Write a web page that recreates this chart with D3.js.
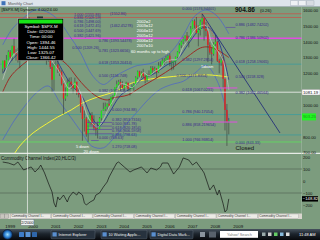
<!DOCTYPE html>
<html>
<head>
<meta charset="utf-8">
<script src="https://cdn.jsdelivr.net/npm/d3@7"></script>
<style>
  html, body { margin: 0; padding: 0; background: #7c9c7e; }
  svg { display: block; font-family: "Liberation Sans", Arial, sans-serif; }
</style>
</head>
<body>
<svg id="chart" width="320" height="240"></svg>
<script>
// $SPX.M monthly candles, Jan 1999 .. Dec 2008
var FIRST_MONTH = "1999-01";
var opens = [1229,1280,1238,1286,1335,1302,1373,1329,1320,1283,1363,1389,
  1469,1394,1366,1499,1452,1421,1455,1431,1518,1437,1429,1315,
  1320,1366,1240,1160,1250,1256,1224,1211,1134,1041,1060,1140,
  1148,1130,1107,1147,1077,1067,990,912,916,815,886,936,
  880,856,841,848,917,964,975,990,1008,996,1051,1058,
  1112,1131,1145,1126,1107,1121,1141,1102,1104,1115,1130,1174,
  1212,1181,1204,1181,1157,1192,1191,1234,1220,1229,1207,1250,
  1248,1280,1281,1295,1311,1270,1270,1277,1304,1336,1378,1401,
  1418,1438,1407,1421,1482,1531,1503,1455,1474,1527,1549,1481,
  1468,1379,1331,1323,1386,1400,1280,1267,1283,1166,969,896];
var highs = [1280,1282,1316,1346,1347,1376,1419,1352,1361,1373,1397,1474,
  1478,1444,1553,1527,1481,1474,1517,1525,1531,1455,1438,1389,
  1383,1376,1264,1269,1316,1286,1236,1220,1137,1111,1161,1173,
  1176,1131,1173,1147,1107,1070,993,966,925,907,951,955,
  935,865,895,924,965,1015,1016,1011,1040,1054,1063,1112,
  1155,1159,1163,1150,1127,1147,1141,1109,1131,1142,1183,1218,
  1217,1213,1229,1191,1200,1219,1246,1246,1243,1233,1271,1276,
  1295,1297,1311,1318,1326,1284,1280,1307,1340,1390,1407,1431,
  1441,1461,1438,1499,1535,1541,1556,1503,1539,1576,1552,1523,
  1471,1396,1359,1397,1440,1405,1292,1314,1303,1167,1007,918];
var lows = [1205,1212,1234,1282,1288,1281,1325,1281,1268,1233,1348,1387,
  1350,1325,1346,1339,1348,1420,1413,1421,1419,1305,1294,1255,
  1274,1228,1081,1091,1241,1203,1183,1124,944,1026,1055,1114,
  1101,1074,1106,1064,1048,952,775,833,800,768,872,871,
  840,807,789,847,902,963,962,960,990,996,1031,1058,
  1105,1124,1087,1107,1077,1114,1079,1060,1101,1090,1128,1163,
  1164,1171,1171,1137,1147,1178,1183,1201,1206,1169,1202,1243,
  1245,1253,1268,1280,1245,1219,1224,1253,1292,1327,1360,1385,
  1403,1389,1364,1416,1481,1484,1452,1371,1439,1490,1407,1435,
  1271,1317,1257,1312,1373,1272,1200,1248,1107,840,742,815];
var closes = [1280,1238,1286,1335,1302,1373,1329,1320,1283,1363,1389,1469,
  1394,1366,1499,1452,1421,1455,1431,1518,1437,1429,1315,1320,
  1366,1240,1160,1250,1256,1224,1211,1134,1041,1060,1140,1148,
  1130,1107,1147,1077,1067,990,912,916,815,886,936,880,
  856,841,848,917,964,975,990,1008,996,1051,1058,1112,
  1131,1145,1126,1107,1121,1141,1102,1104,1115,1130,1174,1212,
  1181,1204,1181,1157,1192,1191,1234,1220,1229,1207,1250,1248,
  1280,1281,1295,1311,1270,1270,1277,1304,1336,1378,1401,1418,
  1438,1407,1421,1482,1531,1503,1455,1474,1527,1549,1481,1468,
  1379,1331,1323,1386,1400,1280,1267,1283,1166,969,896,903];

// 1100 and 900 sit under the value boxes, so they are not printed
var priceTicks = [700,800,1000,1200,1300,1400,1500,1600];
var yearTicks = ["1999","2000","2001","2002","2003","2004","2005","2006","2007","2008","2009"];
var cciTicks = [200,100,0,-100,-200];
var cciGuides = [100,-100];

// indicator lines
var redMa = [["1999-01",1083],["1999-05",1177],["1999-10",1240],["2000-05",1297],["2001-02",1303],["2001-06",1297],["2001-11",1253],["2002-04",1177],["2002-09",1108],["2003-03",1051],["2003-08",1032],["2003-11",1045],["2004-07",1064],["2005-01",1108],["2005-10",1171],["2006-07",1240],["2007-02",1303],["2007-09",1360],["2008-01",1367],["2008-06",1348],["2008-12",1300]];
var yellowMa = [["1999-01",600],["1999-05",654],["1999-10",742],["2000-05",824],["2000-12",881],["2001-06",925],["2002-01",969],["2002-07",1013],["2003-03",1051],["2003-10",1076],["2004-04",1108],["2004-09",1139],["2005-07",1165],["2006-04",1177],["2006-10",1184],["2007-05",1190],["2008-02",1190],["2008-12",1177]];
var blueMa = [["1999-01",1200],["1999-07",1300],["2000-01",1360],["2000-07",1440],["2001-01",1400],["2001-07",1250],["2002-01",1130],["2002-07",1050],["2002-12",920],["2003-04",870],["2003-09",950],["2004-03",1060],["2004-09",1110],["2005-03",1170],["2005-09",1200],["2006-03",1250],["2006-09",1290],["2007-03",1390],["2007-09",1480],["2008-01",1490],["2008-06",1420],["2008-12",1160]];
var upperBand = [["1999-01",1380],["1999-06",1480],["2000-01",1560],["2000-06",1600],["2000-12",1590],["2001-06",1540],["2001-12",1440],["2002-06",1330],["2002-12",1190],["2003-06",1130],["2003-12",1180],["2004-06",1220],["2004-12",1250],["2005-06",1260],["2005-12",1290],["2006-06",1340],["2006-12",1440],["2007-06",1560],["2007-12",1600],["2008-06",1560],["2008-12",1450]];
var lowerBand = [["1999-01",780],["1999-07",900],["2000-01",1000],["2000-07",1080],["2001-01",1120],["2001-07",1020],["2002-01",920],["2002-07",820],["2002-12",740],["2003-06",730],["2003-12",800],["2004-06",880],["2004-12",960],["2005-06",1040],["2005-12",1100],["2006-06",1130],["2006-12",1150],["2007-06",1200],["2007-12",1250],["2008-06",1150],["2008-12",900]];
var greyMa = [["1999-01",1160],["1999-06",1307],["1999-12",1365],["2000-06",1438],["2000-12",1385],["2001-03",1280],["2001-06",1226],["2001-09",1160],["2001-12",1104],["2002-03",1134],["2002-06",1077],["2002-09",946],["2002-12",887],["2003-03",862],["2003-06",909],["2003-09",986],["2003-12",1045],["2004-03",1133],["2004-06",1128],["2004-09",1110],["2004-12",1147],["2005-03",1204],["2005-06",1185],["2005-09",1213],["2005-12",1232],["2006-03",1277],["2006-06",1285],["2006-09",1291],["2006-12",1367],["2007-03",1416],["2007-06",1470],["2007-09",1498],["2007-12",1502],["2008-03",1395],["2008-06",1344],["2008-09",1279],["2008-12",1097]];
var sarDots = [["2007-11",1555],["2008-03",1460],["2008-07",1350],["2008-11",1240]];
var trendLine = [["2007-10",1576],["2011-03",824]];

var cci = [["1999-01",158],["1999-04",150],["1999-07",133],["1999-09",158],["1999-12",92],["2000-04",117],["2000-06",75],["2000-08",108],["2000-09",133],["2000-11",67],["2001-01",-17],["2001-03",-92],["2001-04",-183],["2001-05",-217],["2001-06",-133],["2001-07",-158],["2001-09",-117],["2001-11",-175],["2001-12",-133],["2002-02",-92],["2002-04",-117],["2002-05",-92],["2002-07",-117],["2002-08",-183],["2002-09",-200],["2002-11",-175],["2003-01",-158],["2003-02",-117],["2003-04",-100],["2003-06",-50],["2003-08",-8],["2003-09",33],["2003-11",92],["2004-01",150],["2004-02",158],["2004-05",117],["2004-08",75],["2004-10",92],["2005-02",117],["2005-05",67],["2005-07",108],["2005-10",92],["2005-12",117],["2006-01",150],["2006-04",150],["2006-07",58],["2006-10",117],["2006-12",192],["2007-03",175],["2007-05",133],["2007-07",158],["2007-10",92],["2007-11",67],["2008-02",-75],["2008-04",-33],["2008-06",-117],["2008-07",-75],["2008-09",-190],["2008-10",-258],["2008-11",-240],["2008-12",-149]];
var lastCci = -148.82;

// horizontal levels across the price panel
var levelValues = [1576.09, 1552.87, 1421.96, 1258.19, 940.17, 811.5, 766.93];
var levelKinds = ["red","red","magenta","teal","teal","teal","green"];
var crossPrice = 1081.19;
var crossMonth = "2000-02";
var lastPrice = 903.25;

var magentaSegs = [["2008-01","2009-05",1108],["2007-11","2009-05",893]];
var fibSegs = [["2002-10","2003-11",890],["2002-10","2003-11",867],["2002-10","2003-11",846],["2002-10","2003-11",819],["2002-12","2003-04",776],["2008-11","2009-04",1490]];

var fibLabels = [
  ["1.000 (1555.86)","2002-03",1565],["0.886 (1509.59)","2002-03",1543],["0.786 (1498.00)","2002-03",1521],
  ["0.618 (1472.45)","2002-03",1490],["0.500 (1447.69)","2002-03",1461],["0.382 (1421.96)","2002-03",1430],
  ["(1552.86)","2003-10",1568],["(1462.45278)","2003-10",1490],["0.500 (1209.26)","2002-02",1351],
  ["0.786 (1393.54478)","2003-04",1395],["0.781 (1323.6656)","2003-04",1332],["0.618 (1353.20414)","2003-04",1262],
  ["0.500 (1156.748)","2003-04",1174],["0.382 (1089.53)","2003-04",1083],["0.000 (934.88)","2003-11",963],
  ["0.382 (853.7316)","2003-11",897],["0.500 (831.78)","2003-11",874],["0.618 (820.1854)","2003-11",852],
  ["0.786 (806.5958)","2003-11",827],["0.886 (798.63)","2003-11",805],["0.000 (768.63)","2003-04",783],
  ["1.270 (718.08)","2003-11",726],
  ["0.000 (1576.94401)","2006-12",1597],["0.382 (1297.2854)","2006-12",1281],["0.500 (1171.8354)","2006-09",1174],
  ["0.618 (1067.0231)","2006-12",1086],["0.786 (940.17054)","2006-12",953],["0.886 (858.219654)","2006-12",865],
  ["1.000 (766.93814)","2006-12",774],
  ["0.886 (1482.74202)","2009-04",1496],["0.786 (1386.50902)","2009-04",1414],["0.618 (1258.19065)","2009-04",1266],
  ["0.500 (1158.328)","2009-04",1168],["0.382 (1062.46564)","2009-04",1070],["0.000 (843.33)","2009-04",752]
];
var notes = [["2002=2","2004-12",1521],["2003=12","2004-12",1490],["2004=12","2004-12",1458],["2005=12","2004-12",1427],
  ["2006=12","2004-12",1395],["2007=10","2004-12",1364],["60 months up to high","2004-09",1326],
  ["5down","2007-10",1231],["5 down","2002-04",732],["20 down","2002-08",695]];

var readout = ["Symbol: $SPX.M","Date: 02/2000","Time: 00:00","Open: 1394.46","High: 1444.55","Low: 1325.07","Close: 1366.42"];
var tabNames = ["Commodity Channel I...","Commodity Channel I...","Commodity Channel I...",
  "Commodity Channel I...","Commodity Channel I...","Commodity Channel I...","Commodity Channel I..."];

var PLOT_RIGHT = 302;
var MAIN_TOP = 6.5, MAIN_BOTTOM = 153;
var CCI_TOP = 154, CCI_BOTTOM = 213.5;
var TASK_TOP = 229;

var COLORS = {
  bg: "#7c9c7e", red: "#c4564c", magenta: "#e04ee0", teal: "#3e9c9c", green: "#5ee25e",
  up: "#22e022", down: "#e42020", wick: "#2a2a2a", fib: "#3a2a8e", note: "#ffffff"
};

var parseMonth = d3.timeParse("%Y-%m");
function mid(s) { return d3.timeDay.offset(parseMonth(s), 14); }

var x = d3.scaleTime()
  .domain([new Date(1998, 11, 2), new Date(2012, 2, 2)])
  .range([0, PLOT_RIGHT]);
var y = d3.scaleLinear().domain([700, 1600]).range([152.6, 10]);
var yc = d3.scaleLinear().domain([-200, 200]).range([205, 157]);

var candles = closes.map(function(c, i) {
  return { date: d3.timeDay.offset(d3.timeMonth.offset(parseMonth(FIRST_MONTH), i), 14),
           o: opens[i], h: highs[i], l: lows[i], c: c };
});

var svg = d3.select("#chart");
var defs = svg.append("defs");
defs.append("clipPath").attr("id", "clip-main").append("rect")
  .attr("x", 0).attr("y", MAIN_TOP).attr("width", PLOT_RIGHT).attr("height", MAIN_BOTTOM - MAIN_TOP);
defs.append("clipPath").attr("id", "clip-cci").append("rect")
  .attr("x", 0).attr("y", CCI_TOP).attr("width", PLOT_RIGHT).attr("height", CCI_BOTTOM - CCI_TOP);
var tg = defs.append("linearGradient").attr("id", "task").attr("x1", 0).attr("y1", 0).attr("x2", 0).attr("y2", 1);
tg.append("stop").attr("offset", "0%").attr("stop-color", "#46525e");
tg.append("stop").attr("offset", "45%").attr("stop-color", "#1c242c");
tg.append("stop").attr("offset", "100%").attr("stop-color", "#07090c");
var og = defs.append("radialGradient").attr("id", "orb");
og.append("stop").attr("offset", "0%").attr("stop-color", "#9fe0ff");
og.append("stop").attr("offset", "60%").attr("stop-color", "#2b7fd0");
og.append("stop").attr("offset", "100%").attr("stop-color", "#0f2f60");

svg.append("rect").attr("width", 320).attr("height", 240).attr("fill", COLORS.bg);

// ---- price panel
var main = svg.append("g").attr("clip-path", "url(#clip-main)");

main.selectAll(".level").data(levelValues).enter().append("line")
  .attr("x1", 0).attr("x2", PLOT_RIGHT)
  .attr("y1", function(d) { return y(d); }).attr("y2", function(d) { return y(d); })
  .attr("stroke", function(d, i) { return COLORS[levelKinds[i]]; })
  .attr("stroke-width", function(d, i) { return levelKinds[i] == "magenta" ? 1.4 : 0.8; });

function drawSeries(g, pts, color, width, curve, dash) {
  var line = d3.line().curve(curve || d3.curveCatmullRom.alpha(0.5))
    .x(function(d) { return x(mid(d[0])); })
    .y(function(d) { return y(d[1]); });
  var p = g.append("path").attr("d", line(pts)).attr("fill", "none")
    .attr("stroke", color).attr("stroke-width", width);
  if (dash) p.attr("stroke-dasharray", dash);
  return p;
}

drawSeries(main, upperBand, "#4a62cc", 0.7);
drawSeries(main, lowerBand, "#4a62cc", 0.7);
drawSeries(main, yellowMa, "#f2f23a", 1);
drawSeries(main, redMa, "#9c2c26", 1);
drawSeries(main, blueMa, "#1e2c92", 0.8);
drawSeries(main, trendLine, "#1a2378", 0.8, d3.curveLinear);
drawSeries(main, sarDots, "#d84a40", 0.7, d3.curveLinear, "1,1");

main.selectAll(".wick").data(candles).enter().append("line")
  .attr("x1", function(d) { return x(d.date); }).attr("x2", function(d) { return x(d.date); })
  .attr("y1", function(d) { return y(d.h); }).attr("y2", function(d) { return y(d.l); })
  .attr("stroke", COLORS.wick).attr("stroke-width", 0.5);
main.selectAll(".body").data(candles).enter().append("rect")
  .attr("x", function(d) { return x(d.date) - 0.7; }).attr("width", 1.4)
  .attr("y", function(d) { return y(Math.max(d.o, d.c)); })
  .attr("height", function(d) { return Math.max(0.6, Math.abs(y(d.o) - y(d.c))); })
  .attr("fill", function(d) { return d.c >= d.o ? COLORS.up : COLORS.down; });

drawSeries(main, greyMa, "#d4d4d4", 0.6);

main.selectAll(".mseg").data(magentaSegs).enter().append("line")
  .attr("x1", function(d) { return x(parseMonth(d[0])); }).attr("x2", function(d) { return x(parseMonth(d[1])); })
  .attr("y1", function(d) { return y(d[2]); }).attr("y2", function(d) { return y(d[2]); })
  .attr("stroke", COLORS.magenta).attr("stroke-width", 1);
main.selectAll(".fseg").data(fibSegs).enter().append("line")
  .attr("x1", function(d) { return x(parseMonth(d[0])); }).attr("x2", function(d) { return x(parseMonth(d[1])); })
  .attr("y1", function(d) { return y(d[2]); }).attr("y2", function(d) { return y(d[2]); })
  .attr("stroke", "#5a3aa8").attr("stroke-width", 0.6);

// crosshair
main.append("line").attr("x1", 0).attr("x2", PLOT_RIGHT)
  .attr("y1", y(crossPrice)).attr("y2", y(crossPrice)).attr("stroke", "#f4f4f4").attr("stroke-width", 0.8);

var labels = svg.append("g").attr("font-size", 3.8);
labels.selectAll(".fib").data(fibLabels).enter().append("text")
  .attr("x", function(d) { return x(parseMonth(d[1])); })
  .attr("y", function(d) { return y(d[2]); })
  .attr("fill", COLORS.fib).text(function(d) { return d[0]; });
labels.selectAll(".note").data(notes).enter().append("text")
  .attr("x", function(d) { return x(parseMonth(d[1])); })
  .attr("y", function(d) { return y(d[2]); })
  .attr("fill", COLORS.note).attr("font-size", 4.1).text(function(d) { return d[0]; });
labels.append("text").attr("x", x(parseMonth("2009-04"))).attr("y", y(718))
  .attr("font-size", 6).attr("fill", "#111").text("Closed");

// ---- separators / right axis
svg.append("line").attr("x1", 0).attr("x2", 320).attr("y1", 153.4).attr("y2", 153.4)
  .attr("stroke", "#e6ebe6").attr("stroke-width", 1.2);
svg.append("line").attr("x1", PLOT_RIGHT - 0.5).attr("x2", PLOT_RIGHT - 0.5)
  .attr("y1", MAIN_TOP).attr("y2", CCI_BOTTOM).attr("stroke", "#a9bdaa").attr("stroke-width", 0.5);

var yAxis = svg.append("g").attr("transform", "translate(" + PLOT_RIGHT + ",0)")
  .call(d3.axisRight(y).tickValues(priceTicks).tickFormat(d3.format(".2f")).tickSize(0).tickPadding(1));
yAxis.select(".domain").remove();
yAxis.selectAll("text").attr("font-size", 4.2).attr("fill", "#111").attr("font-family", null);

var boxCross = svg.append("g").attr("transform", "translate(" + PLOT_RIGHT + "," + y(crossPrice) + ")");
boxCross.append("rect").attr("x", 0).attr("y", -2.8).attr("width", 18).attr("height", 5.6)
  .attr("fill", "#ffffff").attr("stroke", "#8a8a8a").attr("stroke-width", 0.4);
boxCross.append("text").attr("x", 1).attr("y", 1.5).attr("font-size", 4.2).attr("fill", "#111").text(d3.format(".2f")(crossPrice));
var boxLast = svg.append("g").attr("transform", "translate(" + PLOT_RIGHT + "," + y(lastPrice) + ")");
boxLast.append("rect").attr("x", 0).attr("y", -7).attr("width", 14).attr("height", 7).attr("fill", "#22f522");
boxLast.append("text").attr("x", 1).attr("y", -2).attr("font-size", 4.2).attr("fill", "#169a16").text(d3.format(".2f")(lastPrice));

// ---- CCI panel
var cciG = svg.append("g").attr("clip-path", "url(#clip-cci)");
cciG.selectAll(".guide").data(cciGuides).enter().append("line")
  .attr("x1", 0).attr("x2", PLOT_RIGHT)
  .attr("y1", function(d) { return yc(d); }).attr("y2", function(d) { return yc(d); })
  .attr("stroke", "#4e5e50").attr("stroke-width", 0.6);
cciG.append("path")
  .attr("d", d3.line().x(function(d) { return x(mid(d[0])); }).y(function(d) { return yc(d[1]); })(cci))
  .attr("fill", "none").attr("stroke", "#161616").attr("stroke-width", 0.7);
svg.append("text").attr("x", 1).attr("y", 159.6).attr("font-size", 4.5).attr("fill", "#111")
  .text("Commodity Channel Index(20,HLC/3)");

var cAxis = svg.append("g").attr("transform", "translate(" + PLOT_RIGHT + ",0)")
  .call(d3.axisRight(yc).tickValues(cciTicks).tickFormat(d3.format("d")).tickSize(0).tickPadding(1));
cAxis.select(".domain").remove();
cAxis.selectAll("text").attr("font-size", 4.2).attr("fill", "#111").attr("font-family", null);
var boxCci = svg.append("g").attr("transform", "translate(" + PLOT_RIGHT + "," + yc(lastCci) + ")");
boxCci.append("rect").attr("x", 0).attr("y", -2.7).attr("width", 16).attr("height", 5.4).attr("fill", "#000");
boxCci.append("text").attr("x", 0.8).attr("y", 1.5).attr("font-size", 4.2).attr("fill", "#fff").text(d3.format(".2f")(lastCci));

// vertical crosshair through both panels
svg.append("line").attr("x1", x(mid(crossMonth))).attr("x2", x(mid(crossMonth)))
  .attr("y1", MAIN_TOP).attr("y2", 219).attr("stroke", "#f4f4f4").attr("stroke-width", 0.7);

// ---- data window
var win = svg.append("g");
win.append("rect").attr("x", 37).attr("y", 16.5).attr("width", 6).attr("height", 2).attr("fill", "#2a2a2a");
win.append("rect").attr("x", 18).attr("y", 18.5).attr("width", 45.5).attr("height", 42)
  .attr("fill", "#000").attr("stroke", "#c8c8c8").attr("stroke-width", 0.4);
win.append("rect").attr("x", 19).attr("y", 19.5).attr("width", 43.5).attr("height", 4).attr("fill", "#18e418");
win.selectAll(".row").data(readout).enter().append("text")
  .attr("x", 41).attr("y", function(d, i) { return 28 + i * 5.2; })
  .attr("text-anchor", "middle").attr("font-size", 4.4).attr("fill", "#fff")
  .text(function(d) { return d; });

// ---- window chrome top
svg.append("rect").attr("x", 0).attr("y", 0).attr("width", 320).attr("height", 6.5).attr("fill", "#dde4eb");
svg.append("line").attr("x1", 0).attr("x2", 320).attr("y1", 6.5).attr("y2", 6.5).attr("stroke", "#9aa6b2").attr("stroke-width", 0.5);
svg.append("rect").attr("x", 1.5).attr("y", 1.2).attr("width", 4).attr("height", 4).attr("fill", "#3f72b8");
svg.append("text").attr("x", 8).attr("y", 5).attr("font-size", 4).attr("fill", "#555").text("Monthly Chart");
[290.5, 298.5, 306.5].forEach(function(bx, i) {
  svg.append("rect").attr("x", bx).attr("y", 0.8).attr("width", 7.5).attr("height", 4.6)
    .attr("fill", i == 2 ? "#d7dce2" : "#eef1f4").attr("stroke", "#9aa4b0").attr("stroke-width", 0.4);
});
svg.append("text").attr("x", 1.5).attr("y", 10.8).attr("font-size", 4.2).attr("fill", "#111")
  .text("[$SPX.M] Dynamic 4.00/24.00");
svg.append("text").attr("x", 235).attr("y", 12).attr("font-size", 6.5).attr("font-weight", "bold")
  .attr("fill", "#111").text("904.86");
svg.append("text").attr("x", 260).attr("y", 11.5).attr("font-size", 4.4).attr("fill", "#111").text("(0.26)");

// ---- tab strip
var tabs = svg.append("g");
tabs.append("rect").attr("x", 0).attr("y", CCI_BOTTOM).attr("width", PLOT_RIGHT).attr("height", 5.5).attr("fill", "#d9d6cf");
[0.5, 4.8].forEach(function(bx) {
  tabs.append("rect").attr("x", bx).attr("y", 214).attr("width", 3.8).attr("height", 4.5)
    .attr("fill", "#c9c6bf").attr("stroke", "#777").attr("stroke-width", 0.3);
});
tabs.selectAll(".tab").data(tabNames).enter().append("g")
  .attr("transform", function(d, i) { return "translate(" + (10.5 + i * 41.3) + ",214)"; })
  .each(function(d) {
    var t = d3.select(this);
    t.append("rect").attr("width", 40.3).attr("height", 4.5)
      .attr("fill", "#ecebe6").attr("stroke", "#8c8c8c").attr("stroke-width", 0.3);
    t.append("text").attr("x", 1).attr("y", 3.4).attr("font-size", 3.1).attr("fill", "#333").text(d);
  });

// ---- date axis
var xAxis = svg.append("g").attr("transform", "translate(0,226.3)")
  .call(d3.axisBottom(x).tickValues(yearTicks.map(function(s) { return d3.timeParse("%Y")(s); }))
    .tickFormat(d3.timeFormat("%Y")).tickSize(0).tickPadding(0));
xAxis.select(".domain").remove();
xAxis.selectAll("text").attr("font-size", 4.4).attr("fill", "#111").attr("font-family", null)
  .attr("text-anchor", "start").attr("dx", 3).attr("y", 0).attr("dy", "0.35em");
var cx = x(mid(crossMonth));
svg.append("rect").attr("x", cx - 6.5).attr("y", 219.4).attr("width", 13).attr("height", 6)
  .attr("fill", "#eef2f3").attr("stroke", "#5a6470").attr("stroke-width", 0.4);
svg.append("text").attr("x", cx).attr("y", 223.8).attr("text-anchor", "middle").attr("font-size", 4)
  .attr("fill", "#111").text("2/2000");

// ---- taskbar
var task = svg.append("g");
task.append("rect").attr("x", 0).attr("y", TASK_TOP).attr("width", 320).attr("height", 240 - TASK_TOP).attr("fill", "url(#task)");
task.append("circle").attr("cx", 7.5).attr("cy", 234.5).attr("r", 5).attr("fill", "url(#orb)").attr("stroke", "#0b1c33").attr("stroke-width", 0.5);
[["#3d7cc8", 19], ["#5b94d6", 25.5], ["#2f66aa", 32]].forEach(function(q) {
  task.append("rect").attr("x", q[1]).attr("y", 232).attr("width", 5).attr("height", 5).attr("fill", q[0]).attr("rx", 0.6);
});
[["Internet Explorer", 51, 44], ["10 Waiting Applic...", 101, 46], ["Digital Data Mark...", 150, 43]].forEach(function(b) {
  task.append("rect").attr("x", b[1]).attr("y", 230.2).attr("width", b[2]).attr("height", 8.6)
    .attr("fill", "#27323e").attr("stroke", "#6a7684").attr("stroke-width", 0.4).attr("rx", 1);
  task.append("rect").attr("x", b[1] + 1.5).attr("y", 232.3).attr("width", 4.2).attr("height", 4.2).attr("fill", "#5a8fd0");
  task.append("text").attr("x", b[1] + 7.5).attr("y", 235.9).attr("font-size", 3.8).attr("fill", "#f0f0f0").text(b[0]);
});
task.append("rect").attr("x", 200).attr("y", 232).attr("width", 5).attr("height", 5).attr("fill", "#8a949e");
task.append("rect").attr("x", 209).attr("y", 231.5).attr("width", 7).attr("height", 6).attr("fill", "#59626c");
task.append("rect").attr("x", 220).attr("y", 231).attr("width", 38).attr("height", 6.8).attr("fill", "#ffffff");
task.append("text").attr("x", 227).attr("y", 235.7).attr("font-size", 3.8).attr("fill", "#777").text("Yahoo! Search");
[[262, "#9aa"], [268, "#ccc"], [274, "#6c6"], [280, "#8bd"], [286, "#ddd"]].forEach(function(t) {
  task.append("rect").attr("x", t[0]).attr("y", 232.5).attr("width", 3.5).attr("height", 3.5).attr("fill", t[1]);
});
task.append("text").attr("x", 299).attr("y", 236).attr("font-size", 4).attr("fill", "#fff").text("11:48 AM");
</script>
</body>
</html>
